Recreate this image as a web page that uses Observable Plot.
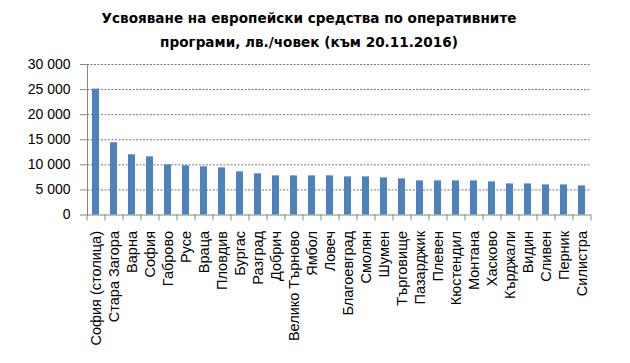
<!DOCTYPE html>
<html>
<head>
<meta charset="utf-8">
<script src="https://cdn.jsdelivr.net/npm/d3@7"></script>
<script src="https://cdn.jsdelivr.net/npm/@observablehq/plot@0.6"></script>
<style>
  body { margin: 0; background: white; }
  #wrap { position: relative; width: 630px; height: 363px; }
  #title { position: absolute; left: 0; top: 7px; width: 618px; text-align: center;
    font-family: "DejaVu Sans", sans-serif; font-weight: bold; font-size: 13.6px; line-height: 23.5px; color: #000; }
</style>
</head>
<body>
<div id="wrap">
  <div id="chart"></div>
  <div id="title">Усвояване на европейски средства по оперативните<br>програми, лв./човек (към 20.11.2016)</div>
</div>
<script>
const regions = ["София (столица)", "Стара Загора", "Варна", "София", "Габрово", "Русе", "Враца", "Пловдив", "Бургас", "Разград", "Добрич", "Велико Търново", "Ямбол", "Ловеч", "Благоевград", "Смолян", "Шумен", "Търговище", "Пазарджик", "Плевен", "Кюстендил", "Монтана", "Хасково", "Кърджали", "Видин", "Сливен", "Перник", "Силистра"];
const values = [25100, 14400, 12000, 11600, 10000, 9800, 9600, 9400, 8600, 8200, 7800, 7800, 7800, 7800, 7600, 7600, 7400, 7200, 6800, 6800, 6800, 6800, 6600, 6200, 6200, 6000, 6000, 5800];
const yTicks = [0, 5000, 10000, 15000, 20000, 25000, 30000];

const data = regions.map((r, i) => ({region: r, value: values[i]}));
const fmt = d => d3.format(",")(d).replace(/,/g, "\u00a0");
const W = 630, ML = 87, MR = 39;
const step = (W - ML - MR) / regions.length;
const grey = "#868686";

const chart = Plot.plot({
  width: W, height: 363,
  marginLeft: ML, marginRight: MR, marginTop: 64, marginBottom: 148.5,
  x: {domain: regions, paddingInner: 0.6, paddingOuter: 0.3, axis: null},
  y: {domain: [0, 30000], axis: null},
  style: {fontFamily: "'Liberation Sans', Arial, sans-serif", fontSize: "14px", color: "#000", background: "white"},
  marks: [
    Plot.gridY(yTicks.filter(d => d > 0), {stroke: "#777", strokeOpacity: 1, strokeDasharray: "2,1.5"}),
    Plot.barY(data, {x: "region", y: "value", fill: "#4F81BD"}),
    Plot.frame({anchor: "left", stroke: grey}),
    Plot.ruleY([0], {stroke: grey}),
    Plot.axisY({ticks: yTicks, tickFormat: fmt, tickSize: 7, tickPadding: 10, stroke: grey, label: null, fontSize: 14}),
    Plot.axisX({tickSize: 6, tickFormat: () => "", dx: -step / 2, stroke: grey, label: null}),
    Plot.axisX([regions[regions.length - 1]], {tickSize: 6, tickFormat: () => "", dx: step / 2, stroke: grey, label: null}),
    Plot.axisX({tickSize: 0, tickPadding: 16, tickRotate: -90, label: null, fontSize: 14.5})
  ]
});
document.getElementById("chart").appendChild(chart);
</script>
</body>
</html>
